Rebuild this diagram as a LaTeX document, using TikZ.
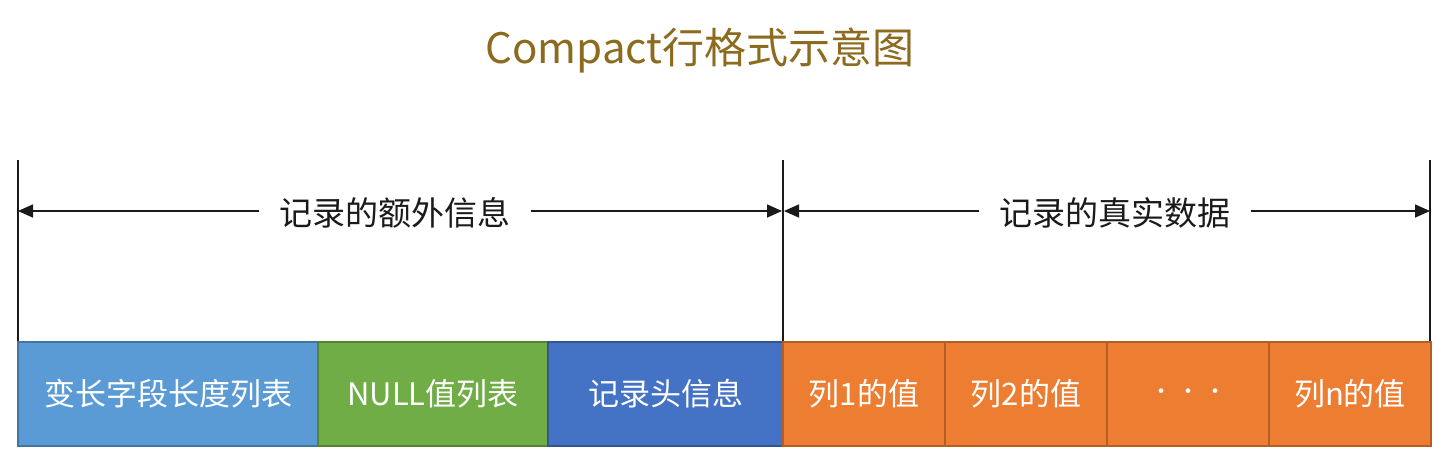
\documentclass[tikz,border=0pt]{standalone}
\usepackage{fontspec}
\setmainfont{Noto Sans CJK SC}
\usetikzlibrary{arrows.meta}
\definecolor{cblue}{HTML}{5B9BD5}
\definecolor{cgreen}{HTML}{70AD47}
\definecolor{cdblue}{HTML}{4472C4}
\definecolor{corange}{HTML}{ED7D31}
\definecolor{ctitle}{HTML}{8C6A1E}
\definecolor{cink}{HTML}{1A1A1A}
\tikzset{
  cell/.style={draw=#1!75!black, line width=1.2pt, fill=#1, minimum height=104pt, inner sep=0pt, outer sep=0pt, text=white, font=\fontsize{31}{34}\selectfont, anchor=west},
  vline/.style={draw=cink, line width=1.6pt},
  dimarrow/.style={draw=cink, line width=1.6pt, -{Triangle[length=15pt,width=13pt]}},
  dimlabel/.style={text=cink, font=\fontsize{33}{36}\selectfont, inner xsep=20pt, inner ysep=0pt},
}
\begin{document}
\begin{tikzpicture}[x=1pt,y=-1pt]
\useasboundingbox[fill=white] (0,0) rectangle (1456,456);
\node[text=ctitle, font=\fontsize{42}{46}\selectfont] (title) at (700,50) {Compact行格式示意图};
% boundary coordinates
\coordinate (t1) at (18,160);  \coordinate (b1) at (18,342);
\coordinate (t2) at (783,160); \coordinate (b2) at (783,342);
\coordinate (t3) at (1430,160); \coordinate (b3) at (1430,342);
\draw[vline] (t1) -- (b1);
\draw[vline] (t2) -- (b2);
\draw[vline] (t3) -- (b3);
\coordinate (a1l) at (18,211);  \coordinate (a1r) at (782,211);
\coordinate (a2l) at (784,211); \coordinate (a2r) at (1430,211);
\node[dimlabel] (l1) at (395,213) {记录的额外信息};
\node[dimlabel] (l2) at (1115,213) {记录的真实数据};
\draw[dimarrow] (l1.west |- a1l) -- (a1l);
\draw[dimarrow] (l1.east |- a1r) -- (a1r);
\draw[dimarrow] (l2.west |- a2l) -- (a2l);
\draw[dimarrow] (l2.east |- a2r) -- (a2r);
% cells
\node[cell=cblue, minimum width=300pt] (c1) at (18,394) {变长字段长度列表};
\node[cell=cgreen, minimum width=230pt] (c2) at (c1.east) {NULL值列表};
\node[cell=cdblue, minimum width=235pt] (c3) at (c2.east) {记录头信息};
\node[cell=corange, minimum width=162pt] (c4) at (c3.east) {列1的值};
\node[cell=corange, minimum width=162pt] (c5) at (c4.east) {列2的值};
\node[cell=corange, minimum width=162pt] (c6) at (c5.east) {\fontsize{22}{24}\selectfont ·\hspace{5pt}·\hspace{5pt}·};
\node[cell=corange, minimum width=162pt] (c7) at (c6.east) {列n的值};
\end{tikzpicture}
\end{document}
